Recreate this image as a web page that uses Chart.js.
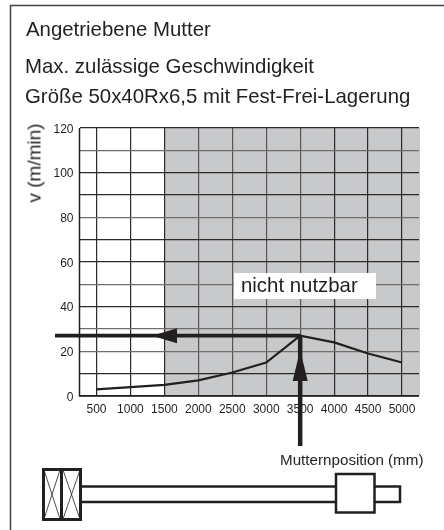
<!DOCTYPE html>
<html>
<head>
<meta charset="utf-8">
<script src="https://cdn.jsdelivr.net/npm/chart.js@4/dist/chart.umd.min.js"></script>
<style>
html, body { margin: 0; padding: 0; background: #fff; }
#wrap { position: relative; width: 444px; height: 530px; overflow: hidden; font-family: "Liberation Sans", sans-serif; color: #231f20; }
#wrap canvas { position: absolute; left: 0; top: 0; }
.label { position: absolute; white-space: nowrap; line-height: 1; }
.head { font-size: 20.4px; left: 25px; }
</style>
</head>
<body>
<div id="wrap">
    <canvas id="chart" width="444" height="530"></canvas>
    <div class="label head" style="left:26px;top:19px;">Angetriebene Mutter</div>
    <div class="label head" style="top:56px;">Max. zulässige Geschwindigkeit</div>
    <div class="label head" style="top:86px;">Größe 50x40Rx6,5 mit Fest-Frei-Lagerung</div>
    <div class="label" style="font-size:19px;left:34px;top:163px;transform:translate(-50%,-50%) rotate(-90deg);">v (m/min)</div>
    <div class="label" style="font-size:20.4px;left:241px;top:275px;">nicht nutzbar</div>
    <div class="label" style="font-size:15.2px;left:280px;top:452px;">Mutternposition (mm)</div>
</div>
<script>
// values
const positions = [500, 1000, 1500, 2000, 2500, 3000, 3500, 4000, 4500, 5000];
const speeds = [3, 4, 5, 7, 10.5, 15, 27, 24, 19, 15];
const yTicks = [0, 10, 20, 30, 40, 50, 60, 70, 80, 90, 100, 110, 120];
const yLabels = [0, 20, 40, 60, 80, 100, 120];
const yGray = [110, 80, 50, 30, 20];
const xGray = [2000, 2500, 3000, 3500];
const limitPosition = 1500;
const peakPosition = 3500;
const peakSpeed = 27;
const inkColor = '#231f20';

// grey "nicht nutzbar" zone, has to sit under the grid
const zonePlugin = {
    id: 'zone',
    beforeDraw(chart) {
        const { ctx, chartArea, scales } = chart;
        const x0 = scales.x.getPixelForValue(limitPosition);
        ctx.save();
        ctx.fillStyle = '#c8c9cb';
        ctx.fillRect(x0, chartArea.top, chartArea.right - x0 + 1, chartArea.bottom - chartArea.top);
        ctx.restore();
    }
};

// frame, arrows and the small spindle sketch
const extrasPlugin = {
    id: 'extras',
    beforeDraw(chart) {
        const ctx = chart.ctx;
        ctx.save();
        ctx.strokeStyle = '#444';
        ctx.lineWidth = 1.5;
        ctx.beginPath();
        ctx.moveTo(10.5, 530);
        ctx.lineTo(10.5, 5.5);
        ctx.lineTo(444, 5.5);
        ctx.stroke();
        ctx.restore();
    },
    afterDraw(chart) {
        const { ctx, chartArea, scales } = chart;
        const px = scales.x.getPixelForValue(peakPosition);
        const py = scales.y.getPixelForValue(peakSpeed);
        ctx.save();
        ctx.strokeStyle = inkColor;
        ctx.fillStyle = inkColor;

        // plot frame: left and bottom axis
        ctx.lineWidth = 1.5;
        ctx.beginPath();
        ctx.moveTo(chartArea.left, chartArea.top);
        ctx.lineTo(chartArea.left, chartArea.bottom);
        ctx.lineTo(chartArea.right, chartArea.bottom);
        ctx.stroke();

        // horizontal arrow
        ctx.lineWidth = 3.8;
        ctx.beginPath();
        ctx.moveTo(55, py);
        ctx.lineTo(px, py);
        ctx.stroke();
        ctx.beginPath();
        ctx.moveTo(152, py);
        ctx.lineTo(177, py - 7.5);
        ctx.lineTo(177, py + 7.5);
        ctx.closePath();
        ctx.fill();

        // vertical arrow
        ctx.lineWidth = 4.5;
        ctx.beginPath();
        ctx.moveTo(px, 446);
        ctx.lineTo(px, py);
        ctx.stroke();
        ctx.beginPath();
        ctx.moveTo(px, 350);
        ctx.lineTo(px - 7.5, 381);
        ctx.lineTo(px + 7.5, 381);
        ctx.closePath();
        ctx.fill();

        // spindle sketch
        ctx.lineWidth = 3;
        ctx.strokeRect(43.5, 469.5, 37, 50);
        ctx.beginPath();
        ctx.moveTo(61.5, 469);
        ctx.lineTo(61.5, 520);
        ctx.stroke();
        ctx.lineWidth = 0.8;
        ctx.beginPath();
        ctx.moveTo(44, 470); ctx.lineTo(60, 519);
        ctx.moveTo(60, 470); ctx.lineTo(44, 519);
        ctx.moveTo(63, 470); ctx.lineTo(80, 519);
        ctx.moveTo(80, 470); ctx.lineTo(63, 519);
        ctx.stroke();
        ctx.lineWidth = 2.5;
        ctx.beginPath();
        ctx.moveTo(81, 486.5); ctx.lineTo(336, 486.5);
        ctx.moveTo(81, 502); ctx.lineTo(336, 502);
        ctx.moveTo(375, 486.5); ctx.lineTo(400, 486.5); ctx.lineTo(400, 502); ctx.lineTo(375, 502);
        ctx.stroke();
        ctx.strokeRect(336, 474, 38.5, 38.5);

        // white box behind the label
        ctx.fillStyle = '#fff';
        ctx.fillRect(234, 273, 142, 26);
        ctx.restore();
    }
};

new Chart(document.getElementById('chart'), {
    type: 'line',
    data: {
        datasets: [{
            data: positions.map((p, i) => ({ x: p, y: speeds[i] })),
            borderColor: inkColor,
            borderWidth: 2.2,
            pointRadius: 0,
            tension: 0
        }]
    },
    options: {
        responsive: false,
        animation: false,
        layout: { padding: { left: 0, right: 25, top: 128, bottom: 0 } },
        plugins: { legend: { display: false }, tooltip: { enabled: false } },
        scales: {
            x: {
                type: 'linear',
                min: 250,
                max: 5250,
                afterBuildTicks(axis) { axis.ticks = positions.map(v => ({ value: v })); },
                grid: {
                    color: c => xGray.includes(c.tick.value) ? '#555' : '#2a2a2a',
                    lineWidth: 1.2,
                    drawTicks: false
                },
                border: { display: false },
                ticks: {
                    autoSkip: false, maxRotation: 0, padding: 6,
                    color: inkColor,
                    font: { family: '"Liberation Sans"', size: 12 },
                    callback: v => String(v)
                },
                afterFit(axis) { axis.height = 134; }
            },
            y: {
                min: 0,
                max: 120,
                afterBuildTicks(axis) { axis.ticks = yTicks.map(v => ({ value: v })); },
                grid: {
                    color: c => yGray.includes(c.tick.value) ? '#6e6e6e' : '#2a2a2a',
                    lineWidth: 1.2,
                    drawTicks: false
                },
                border: { display: false },
                ticks: {
                    autoSkip: false, padding: 6, labelOffset: 1.5,
                    color: inkColor,
                    font: { family: '"Liberation Sans"', size: 12 },
                    callback: v => yLabels.includes(v) ? String(v) : ''
                },
                afterFit(axis) { axis.width = 79.5; }
            }
        }
    },
    plugins: [zonePlugin, extrasPlugin]
});
</script>
</body>
</html>
